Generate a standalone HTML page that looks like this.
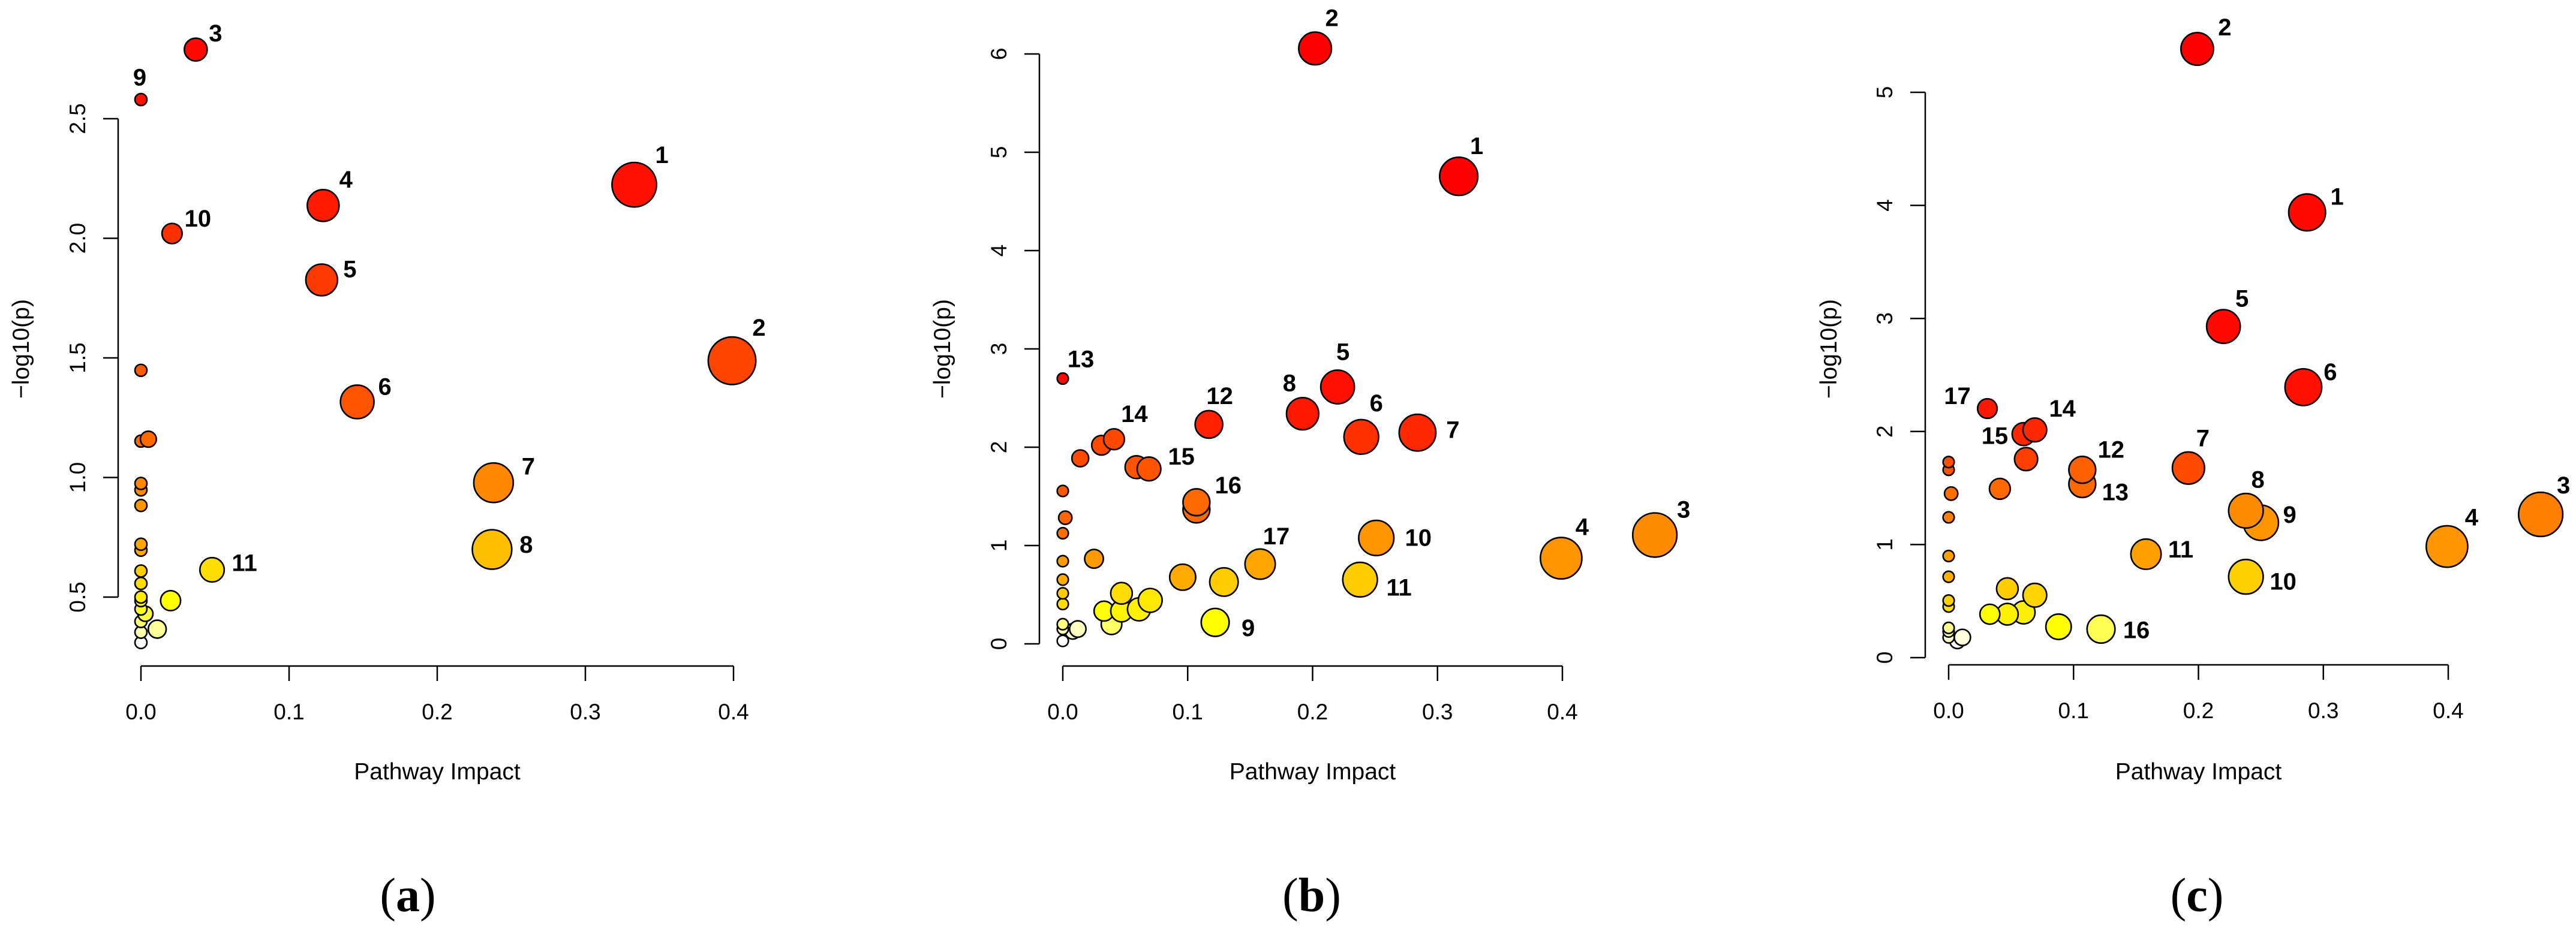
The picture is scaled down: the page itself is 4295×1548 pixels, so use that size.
<!DOCTYPE html>
<html><head><meta charset="utf-8"><style>
html,body{margin:0;padding:0;background:#fff;}
svg{display:block;}
text{font-family:"Liberation Sans",sans-serif;}
</style></head><body>
<svg id="fig" width="4295" height="1548" viewBox="0 0 4295 1548" xmlns="http://www.w3.org/2000/svg"></svg>
<script>
// ---------- Panel (a) data ----------
const aX = [0.333,0.399,0.037,0.123,0.122,0.146,0.238,0.237,0.0,0.021,0.048,
  0,0.005,0,0,0,0,0,0,0,0,0,0,0,0.003,0,0,0,0.02,0.011];
const aY = [2.224,1.488,2.789,2.137,1.826,1.316,0.978,0.699,2.58,2.02,0.614,
  1.448,1.16,1.152,0.975,0.948,0.883,0.721,0.696,0.609,0.557,0.5,0.485,0.45,0.43,0.398,0.353,0.31,0.485,0.366];
const aLabels = ["1","2","3","4","5","6","7","8","9","10","11"];
const aYTicks = [0.5,1.0,1.5,2.0,2.5];
const aYTickLabels = ["0.5","1.0","1.5","2.0","2.5"];
// ---------- Panel (b) data ----------
const bX = [0.317,0.202,0.474,0.399,0.220,0.239,0.284,0.192,0.122,0.251,0.238,0.117,0.0,0.041,0.069,0.107,0.158,
  0.031,0.059,0.107,0.014,0.025,0.096,0.129,0.047,0.07,0.061,0.047,0.033,0.039,
  0,0.002,0,0,0,0,0,0,0,0.012,0.008,0];
const bY = [4.755,6.056,1.107,0.871,2.613,2.105,2.148,2.341,0.218,1.077,0.653,2.232,2.698,2.081,1.779,1.44,0.811,
  2.02,1.797,1.367,1.887,0.865,0.678,0.629,0.514,0.442,0.351,0.333,0.333,0.2,
  1.555,1.283,1.125,0.841,0.653,0.514,0.405,0.2,0.151,0.151,0.127,0.03];
const bLabels = ["1","2","3","4","5","6","7","8","9","10","11","12","13","14","15","16","17"];
const bYTicks = [0,1,2,3,4,5,6];
const bYTickLabels = ["0","1","2","3","4","5","6"];
// ---------- Panel (c) data ----------
const cX = [0.287,0.199,0.474,0.399,0.220,0.284,0.192,0.238,0.25,0.238,0.158,0.107,0.107,0.069,0.06,0.122,0.031,
  0.062,0.041,0.047,0.069,0.033,0.047,0.06,0.088,
  0,0,0.002,0,0,0,0,0,0,0,0,0.011,0.007];
const cY = [3.938,5.384,1.267,0.983,2.929,2.392,1.677,1.299,1.193,0.715,0.915,1.661,1.535,2.014,1.977,0.252,2.203,
  1.756,1.493,0.61,0.552,0.384,0.384,0.4,0.273,
  1.73,1.661,1.451,1.241,0.899,0.715,0.505,0.452,0.263,0.231,0.179,0.179,0.147];
const cLabels = ["1","2","3","4","5","6","7","8","9","10","11","12","13","14","15","16","17"];
const cYTicks = [0,1,2,3,4,5];
const cYTickLabels = ["0","1","2","3","4","5"];
const xTicks = [0,0.1,0.2,0.3,0.4];
const xTickLabels = ["0.0","0.1","0.2","0.3","0.4"];

// ---------- styling (colors / label offsets) ----------
const aColors = ["#FF1000","#FF4500","#FF0800","#FF1A00","#FF3A00","#FF5500","#FF8800","#FFBF00","#FF1000","#FF3000","#FFDD00",
  "#FF5A00","#FF6A00","#FF6A00","#FF8800","#FF8C00","#FF9500","#FFA500","#FFAA00","#FFCC00","#FFDD00","#FFEE00","#FFFF00","#FFFF20","#FFFF40","#FFFF70","#FFFFB0","#FFFFFF","#FFFF00","#FFFF99"];
const aLab = [[46,-47],[45,-52],[33,-26],[38,-41],[47,-17],[46,-24],[58,-26],[57,-8],[-2,-35],[43,-24],[54,-11]];
const bColors = ["#FF0000","#FF0000","#FF8C00","#FF9500","#FF1000","#FF3000","#FF2800","#FF1800","#FFFF00","#FF9500","#FFCC00","#FF2200","#FF0800","#FF4800","#FF5500","#FF6A00","#FFA500",
  "#FF4800","#FF5500","#FF6A00","#FF4A00","#FF9A00","#FFAA00","#FFCC00","#FFDD00","#FFE800","#FFF000","#FFF500","#FFFF00","#FFFF66",
  "#FF5A00","#FF6500","#FF7000","#FF9A00","#FFAA00","#FFCC00","#FFDD00","#FFFF80","#FFFFB0","#FFFFC0","#FFFFD0","#FFFFFF"];
const bLab = [[30,-48],[28,-48],[48,-40],[35,-49],[9,-55],[25,-53],[59,-5],[-22,-48],[55,8],[70,-1],[65,12],[18,-45],[30,-31],[34,-40],[54,-20],[53,-27],[27,-44]];
const cColors = ["#FF0800","#FF0000","#FF8000","#FF9500","#FF0800","#FF1000","#FF4A00","#FF8C00","#FF9500","#FFD000","#FFA000","#FF6000","#FF6A00","#FF2800","#FF2800","#FFFF55","#FF1800",
  "#FF4000","#FF6A00","#FFCC00","#FFD500","#FFFF00","#FFF000","#FFF000","#FFFF00",
  "#FF5000","#FF5500","#FF7000","#FF8000","#FFA000","#FFB000","#FFD000","#FFE000","#FFFF90","#FFFFB0","#FFFFD0","#FFFFE0","#FFFFFF"];
const cLab = [[50,-25],[46,-34],[38,-46],[41,-46],[31,-44],[45,-24],[24,-47],[20,-49],[48,-13],[62,7],[58,-8],[48,-32],[55,12],[46,-34],[-48,2],[59,1],[-50,-20]];

const NS = "http://www.w3.org/2000/svg";
const svg = document.getElementById('fig');
function mk(tag, attrs, parent, txt){
  const e = document.createElementNS(NS, tag);
  for (const k in attrs) e.setAttribute(k, attrs[k]);
  if (txt !== undefined) e.textContent = txt;
  parent.appendChild(e);
  return e;
}

function panel(p){
  const g = mk('g', {}, svg);
  
  
  const sx = v => p.x0 + (p.x1 - p.x0) * v / 0.4;
  const sy = v => p.yA + (p.yB - p.yA) * (v - p.ya) / (p.yb - p.ya);
  const xa = mk('g', {}, g);
  
  
  mk('line', {x1:sx(0), x2:sx(0.4), y1:p.xAxisY, y2:p.xAxisY, stroke:'#000','stroke-width':2.5}, xa);
  xTicks.forEach((t,i) => {
    const l = mk('line', {x1:sx(t), x2:sx(t), y1:p.xAxisY, y2:p.xAxisY+25, stroke:'#000','stroke-width':2.5}, xa);
    
    
    const tx = mk('text', {x:sx(t), y:p.xAxisY+89, 'font-size':37, 'text-anchor':'middle', fill:'#000'}, xa, xTickLabels[i]);
    
    
  });
  const xt = mk('text', {x:(sx(0)+sx(0.4))/2, y:1300, 'font-size':39, 'text-anchor':'middle', fill:'#000'}, g, 'Pathway Impact');
  
  
  const ya = mk('g', {}, g);
  
  
  const yt0 = p.yTicks[0], yt1 = p.yTicks[p.yTicks.length-1];
  mk('line', {x1:p.yAxisX, x2:p.yAxisX, y1:sy(yt0), y2:sy(yt1), stroke:'#000','stroke-width':2.5}, ya);
  p.yTicks.forEach((t,i) => {
    const l = mk('line', {x1:p.yAxisX-25, x2:p.yAxisX, y1:sy(t), y2:sy(t), stroke:'#000','stroke-width':2.5}, ya);
    
    
    const lx = p.yAxisX - 55, ly = sy(t);
    const tx = mk('text', {x:lx, y:ly, 'font-size':37, 'text-anchor':'middle', fill:'#000', transform:`rotate(-90 ${lx} ${ly})`}, ya, p.yTickLabels[i]);
    
    
  });
  const yx = p.yTitleX;
  const ytt = mk('text', {x:yx, y:582, 'font-size':39, 'text-anchor':'middle', fill:'#000', transform:`rotate(-90 ${yx} 582)`}, g, '\u2212log10(p)');
  
  
  const pts = mk('g', {}, g);
  
  
  const order = p.X.map((_,i)=>i).reverse();
  order.forEach(i => {
    const r = p.r0 + p.rk * Math.sqrt(Math.max(0, p.X[i]));
    const c = mk('circle', {cx:sx(p.X[i]), cy:sy(p.Y[i]), r:r, fill:p.colors[i], stroke:'#000', 'stroke-width':2.6}, pts);
    
    
  });
  p.labels.forEach((lb,i) => {
    const t = mk('text', {x:sx(p.X[i]) + p.lab[i][0], y:sy(p.Y[i]) + p.lab[i][1]*1.07 + 14, 'font-size':40, 'font-weight':'bold', 'text-anchor':'middle', fill:'#000'}, pts, lb);
    
    
  });
  const pl = mk('text', {x:p.labelX, y:1520, 'font-size':80, 'text-anchor':'middle', fill:'#000', style:'font-family:"Liberation Serif",serif'}, g);
  
  
  mk('tspan', {}, pl, '(');
  mk('tspan', {'font-weight':'bold'}, pl, p.id);
  mk('tspan', {}, pl, ')');
}

panel({id:'a', X:aX, Y:aY, labels:aLabels, colors:aColors, lab:aLab, yTicks:aYTicks, yTickLabels:aYTickLabels,
  x0:235, x1:1223, ya:0.5, yb:2.5, yA:996, yB:198, xAxisY:1111, yAxisX:197, yTitleX:48, labelX:680, r0:10, rk:47});
panel({id:'b', X:bX, Y:bY, labels:bLabels, colors:bColors, lab:bLab, yTicks:bYTicks, yTickLabels:bYTickLabels,
  x0:1772, x1:2605, ya:0, yb:6, yA:1074, yB:90, xAxisY:1111, yAxisX:1733, yTitleX:1584, labelX:2187, r0:9.3, rk:40});
panel({id:'c', X:cX, Y:cY, labels:cLabels, colors:cColors, lab:cLab, yTicks:cYTicks, yTickLabels:cYTickLabels,
  x0:3249, x1:4082, ya:0, yb:5, yA:1097, yB:154, xAxisY:1109, yAxisX:3210, yTitleX:3062, labelX:3663, r0:9.3, rk:40});
</script>
</body></html>
